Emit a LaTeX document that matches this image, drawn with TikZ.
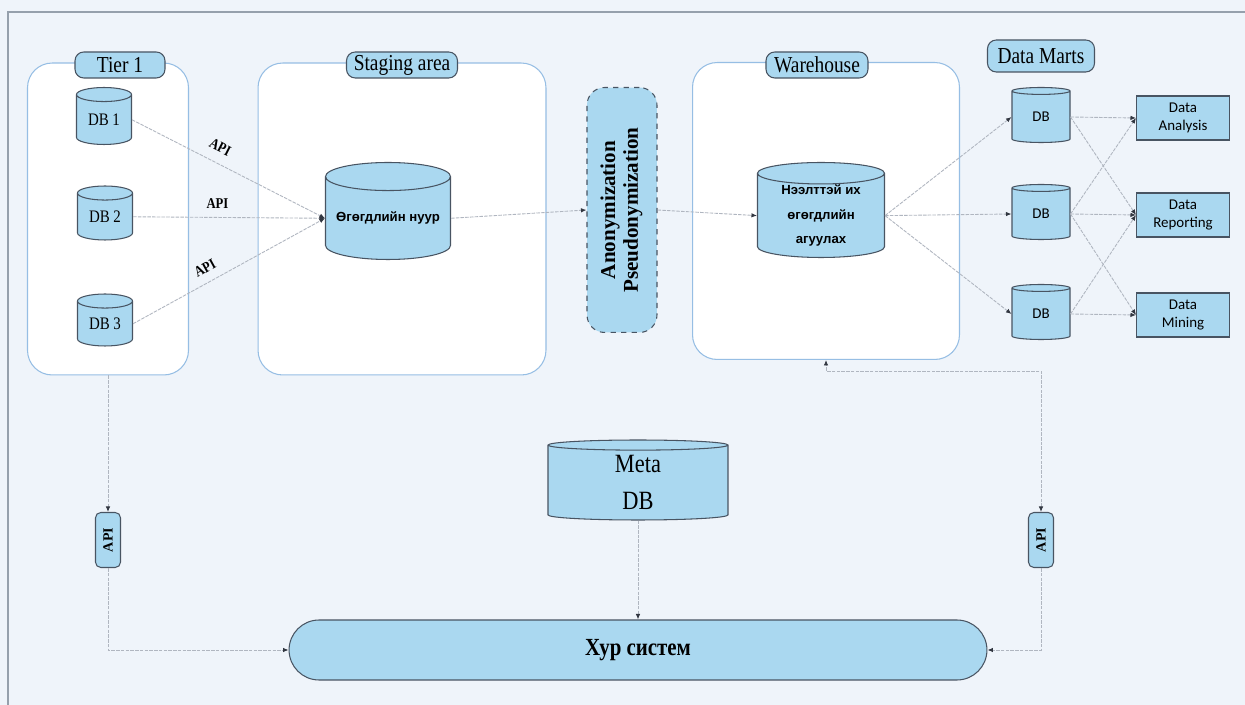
\documentclass[tikz,border=0pt]{standalone}
\usepackage{fontspec}
\usepackage{graphicx}
\setmainfont{Liberation Serif}
\newfontfamily\headfont[FakeStretch=0.85]{Liberation Serif}
\newfontfamily\cylsans{Liberation Sans}
\newfontfamily\martfont{Carlito}
\usetikzlibrary{positioning, shapes.geometric, arrows.meta}

\definecolor{dbfill}{RGB}{170,216,240}
\definecolor{dbedge}{RGB}{72,84,98}
\definecolor{areaedge}{RGB}{150,190,228}
\definecolor{wirecol}{RGB}{176,182,192}
\definecolor{tipcol}{RGB}{50,55,65}
\definecolor{paper}{RGB}{239,244,250}
\definecolor{framecol}{RGB}{150,160,172}

\begin{document}
\begin{tikzpicture}[
  x=0.02cm, y=-0.02cm,
  >={Latex[length=1.1mm, width=0.9mm, color=tipcol]},
  area/.style   = {draw=areaedge, fill=white, rounded corners=14pt, line width=0.6pt, inner sep=0pt},
  tag/.style    = {draw=dbedge, fill=dbfill, rounded corners=5pt, inner sep=0pt, minimum height=0.52cm,
                   line width=0.6pt, font=\headfont\fontsize{13}{13}\selectfont},
  db/.style     = {cylinder, shape border rotate=90, draw=dbedge, fill=dbfill, line width=0.6pt,
                   inner sep=0pt, align=center, anchor=shape center},
  sink/.style   = {draw=dbedge, fill=dbfill, line width=0.6pt, inner sep=0pt, minimum width=1.86cm,
                   minimum height=0.88cm, align=center, font=\martfont\fontsize{8.5}{10}\selectfont},
  apibox/.style = {draw=dbedge, fill=dbfill, rounded corners=3pt, line width=0.6pt, inner sep=0pt,
                   minimum width=0.5cm, minimum height=1.1cm, font=\bfseries\fontsize{8}{8}\selectfont},
  wire/.style   = {draw=wirecol, line width=0.5pt, dash pattern=on 2pt off 0.7pt},
  apilbl/.style = {font=\headfont\bfseries\fontsize{8.5}{8.5}\selectfont, inner sep=0pt},
]
  % ---- paper and frame ----
  \fill[paper] (0,0) rectangle (1245,705);
  \useasboundingbox (0,0) rectangle (1245,705);
  \draw[framecol, line width=0.6pt] (8,705) -- (8,12) -- (1245,12);

  % ---- containers ----
  \node[area, minimum width=3.22cm, minimum height=6.24cm] (tier)  at (108,219) {};
  \node[area, minimum width=5.76cm, minimum height=6.24cm] (stage) at (402,219) {};
  \node[area, minimum width=5.34cm, minimum height=5.94cm] (wh)    at (826,211) {};

  \node[tag, minimum width=1.8cm]  (tiertag)  at (120,65) {Tier 1};
  \node[tag, minimum width=2.22cm] (stagetag) at (402,65) {Staging area};
  \node[tag, minimum width=2.04cm] (whtag)    at (817,65) {Warehouse};
  \node[tag, minimum width=2.14cm, minimum height=0.64cm] (marttag) at (1041,56) {Data Marts};

  % ---- sources ----
  \node[db, minimum width=1.1cm, minimum height=1.14cm, aspect=0.44,
        font=\headfont\fontsize{10}{10}\selectfont] (db1) at (104,116) {DB 1};
  \node[db, minimum width=1.1cm, minimum height=1.08cm, aspect=0.44,
        font=\headfont\fontsize{10}{10}\selectfont] (db2) at (105,213) {DB 2};
  \node[db, minimum width=1.1cm, minimum height=1.04cm, aspect=0.44,
        font=\headfont\fontsize{10}{10}\selectfont] (db3) at (105,320) {DB 3};

  % ---- lake, anonymisation, warehouse ----
  \node[db, minimum width=2.5cm, minimum height=1.94cm, aspect=0.27,
        font=\cylsans\bfseries\fontsize{7.5}{9}\selectfont] (lake) at (388,211) {Өгөгдлийн нуур};
  \node[draw=dbedge, dashed, fill=dbfill, rounded corners=10pt, line width=0.6pt, inner sep=0pt,
        minimum width=1.4cm, minimum height=4.9cm, font=\bfseries\fontsize{12}{13}\selectfont]
        (anon) at (622,210) {\rotatebox{90}{\begin{tabular}{@{}c@{}}Anonymization\\Pseudonymization\end{tabular}}};
  \node[db, minimum width=2.54cm, minimum height=1.9cm, aspect=0.27,
        font=\cylsans\bfseries\fontsize{7.5}{14}\selectfont] (whdb) at (821,210) {Нээлттэй их\\өгөгдлийн\\агуулах};

  % ---- data marts ----
  \foreach \i/\yy in {1/115, 2/212, 3/312}
    \node[db, minimum width=1.16cm, minimum height=1.1cm, aspect=0.4,
          font=\martfont\fontsize{8.5}{10}\selectfont] (mart\i) at (1041,\yy) {DB};

  \node[sink] (analysis)  at (1183,118) {Data\\Analysis};
  \node[sink] (reporting) at (1183,215) {Data\\Reporting};
  \node[sink] (mining)    at (1183,315) {Data\\Mining};

  % ---- bottom ----
  \node[db, minimum width=3.6cm, minimum height=1.6cm, aspect=0.22,
        font=\headfont\fontsize{15}{21}\selectfont] (meta) at (638,480) {Meta\\DB};
  \node[draw=dbedge, fill=dbfill, rounded corners=0.6cm, line width=0.6pt, inner sep=0pt,
        minimum width=13.96cm, minimum height=1.2cm,
        font=\headfont\bfseries\fontsize{14}{14}\selectfont] (hur) at (638,650) {Хур систем};
  \node[apibox] (lapi) at (108,540) {\rotatebox{90}{API}};
  \node[apibox] (rapi) at (1041,540) {\rotatebox{90}{API}};

  % ---- flows ----
  \draw[wire, ->] (db1.east) -- node[apilbl, sloped, above=6pt, pos=0.42]{API} (lake.west);
  \draw[wire, ->] (db2.east) -- node[apilbl, above=5pt, pos=0.44]{API} (lake.west);
  \draw[wire, ->] (db3.east) -- node[apilbl, sloped, above=5pt, pos=0.41]{API} (lake.west);
  \draw[wire, ->] (lake.east) -- (anon.west);
  \draw[wire, ->] (anon.east) -- (whdb.west);
  \foreach \i in {1,2,3}
    \draw[wire, ->] (whdb.east) -- (mart\i.west);

  \draw[wire, ->] (mart1.east) -- (analysis.west);
  \draw[wire, ->] (mart1.east) -- (reporting.west);
  \draw[wire, ->] (mart2.east) -- (analysis.west);
  \draw[wire, ->] (mart2.east) -- (reporting.west);
  \draw[wire, ->] (mart2.east) -- (mining.west);
  \draw[wire, ->] (mart3.east) -- (reporting.west);
  \draw[wire, ->] (mart3.east) -- (mining.west);

  \draw[wire, ->]  (tier.south) -- (lapi.north);
  \draw[wire, ->]  (lapi.south) |- (hur.west);
  \draw[wire, ->]  (meta.south) -- (hur.north);
  \draw[wire, <->] (rapi.north) -- ++(0,-141) -| (wh.south);
  \draw[wire, ->]  (rapi.south) |- (hur.east);
\end{tikzpicture}
\end{document}
